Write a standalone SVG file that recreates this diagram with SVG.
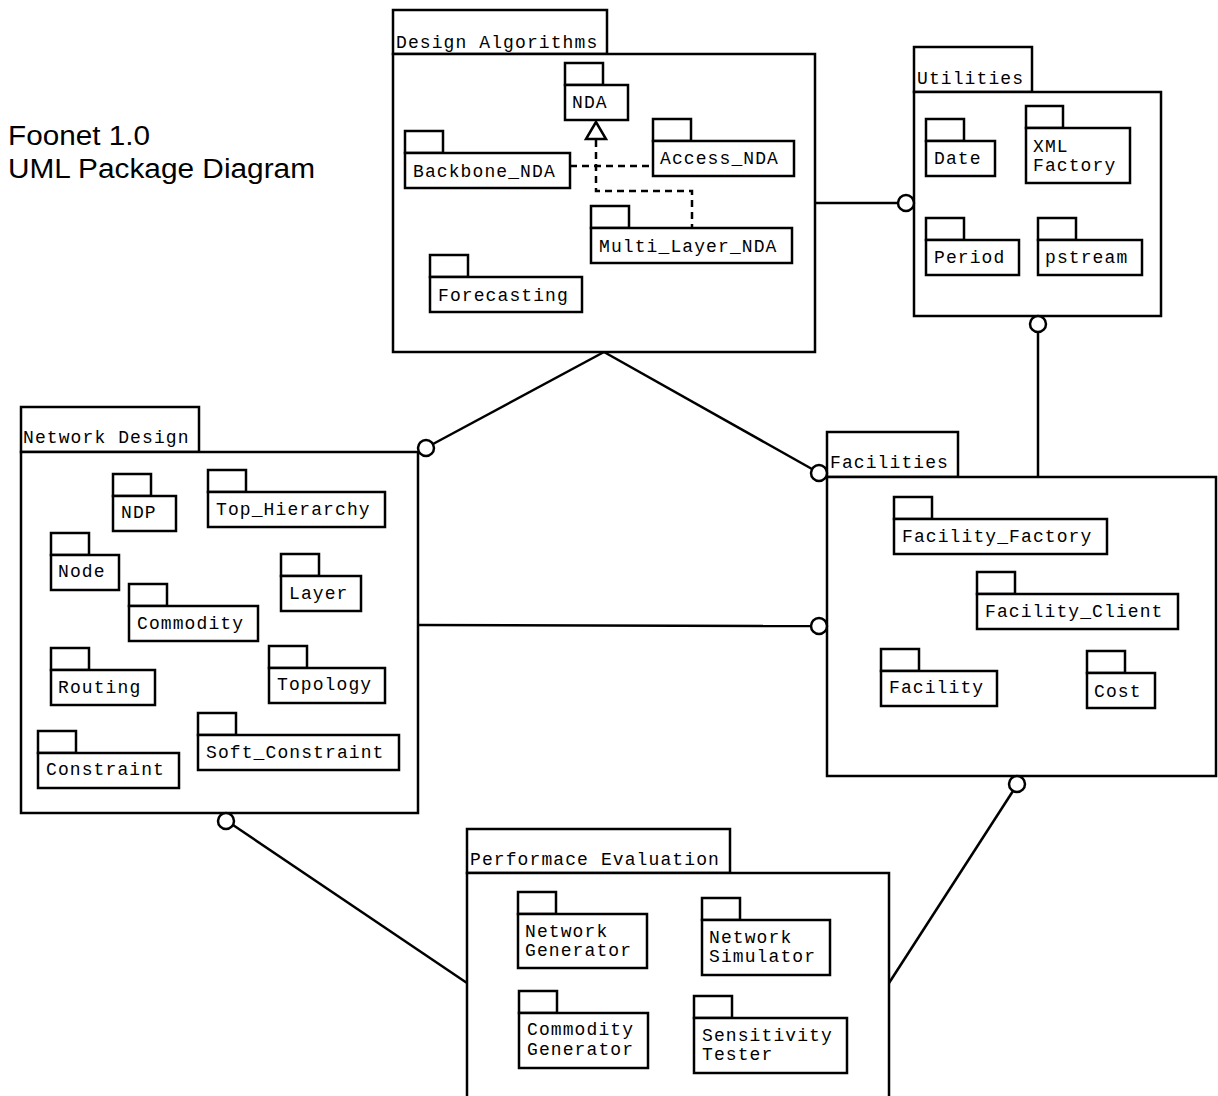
<svg xmlns="http://www.w3.org/2000/svg" width="1218" height="1096" viewBox="0 0 1218 1096">
  <style>
    .box { fill: #fff; stroke: #000; stroke-width: 2.5; }
    .lbl { font-family: "Liberation Mono", "Courier New", monospace; font-size: 18px; letter-spacing: 1.1px; fill: #000; }
    .title { font-family: "Liberation Sans", Arial, sans-serif; font-size: 27px; fill: #000; }
    .link { fill: none; stroke: #000; stroke-width: 2.5; }
    .dep { fill: none; stroke: #000; stroke-width: 2.5; stroke-dasharray: 7 5; }
    .sock { fill: #fff; stroke: #000; stroke-width: 2.5; }
  </style>

  <rect width="1218" height="1096" fill="#fff"/>

  <!-- heading -->
  <g id="title">
    <text class="title" x="8" y="145" textLength="142" lengthAdjust="spacingAndGlyphs">Foonet 1.0</text>
    <text class="title" x="8" y="178" textLength="307" lengthAdjust="spacingAndGlyphs">UML Package Diagram</text>
  </g>

  <!-- package connectors -->
  <g id="connectors">
    <line class="link" x1="604" y1="352" x2="433" y2="444"/>
    <line class="link" x1="604" y1="352" x2="812" y2="469"/>
    <line class="link" x1="815" y1="203" x2="898" y2="203"/>
    <line class="link" x1="1038" y1="332" x2="1038" y2="477"/>
    <line class="link" x1="418" y1="625" x2="811" y2="626"/>
    <line class="link" x1="233" y1="825" x2="467" y2="983"/>
    <line class="link" x1="1013" y1="791" x2="889" y2="983"/>
  </g>

  <!-- Design Algorithms -->
  <g id="design-algorithms">
    <rect class="box" x="393" y="10" width="214" height="44"/>
    <rect class="box" x="393" y="54" width="422" height="298"/>
    <text class="lbl" x="396" y="48">Design Algorithms</text>
    <g id="nda">
      <rect class="box" x="565" y="63" width="38" height="22"/>
      <rect class="box" x="565" y="85" width="63" height="35"/>
      <text class="lbl" x="572" y="108">NDA</text>
    </g>
    <g id="backbone-nda">
      <rect class="box" x="405" y="131" width="38" height="22"/>
      <rect class="box" x="405" y="153" width="165" height="35"/>
      <text class="lbl" x="413" y="177">Backbone_NDA</text>
    </g>
    <g id="access-nda">
      <rect class="box" x="653" y="119" width="38" height="22"/>
      <rect class="box" x="653" y="141" width="141" height="35"/>
      <text class="lbl" x="660" y="164">Access_NDA</text>
    </g>
    <g id="multi-layer-nda">
      <rect class="box" x="591" y="206" width="38" height="22"/>
      <rect class="box" x="591" y="228" width="201" height="35"/>
      <text class="lbl" x="599" y="252">Multi_Layer_NDA</text>
    </g>
    <g id="forecasting">
      <rect class="box" x="430" y="255" width="38" height="22"/>
      <rect class="box" x="430" y="277" width="152" height="35"/>
      <text class="lbl" x="438" y="301">Forecasting</text>
    </g>
    <!-- generalisation of the NDA variants -->
    <g id="nda-generalisation">
      <path class="dep" d="M570 166 H653"/>
      <path class="dep" d="M596 140 V191 H692 V228"/>
      <polygon points="596,122 586,139 606,139" fill="#fff" stroke="#000" stroke-width="2.5"/>
    </g>
  </g>

  <!-- Utilities -->
  <g id="utilities">
    <rect class="box" x="914" y="47" width="118" height="45"/>
    <rect class="box" x="914" y="92" width="247" height="224"/>
    <text class="lbl" x="917" y="84">Utilities</text>
    <g id="date">
      <rect class="box" x="926" y="119" width="38" height="22"/>
      <rect class="box" x="926" y="141" width="69" height="35"/>
      <text class="lbl" x="934" y="164">Date</text>
    </g>
    <g id="xml-factory">
      <rect class="box" x="1026" y="106" width="37" height="22"/>
      <rect class="box" x="1026" y="128" width="104" height="55"/>
      <text class="lbl" x="1033" y="152">XML</text>
      <text class="lbl" x="1033" y="171">Factory</text>
    </g>
    <g id="period">
      <rect class="box" x="926" y="218" width="38" height="22"/>
      <rect class="box" x="926" y="240" width="93" height="35"/>
      <text class="lbl" x="934" y="263">Period</text>
    </g>
    <g id="pstream">
      <rect class="box" x="1038" y="218" width="38" height="22"/>
      <rect class="box" x="1038" y="240" width="104" height="35"/>
      <text class="lbl" x="1045" y="263">pstream</text>
    </g>
  </g>

  <!-- Network Design -->
  <g id="network-design">
    <rect class="box" x="21" y="407" width="178" height="45"/>
    <rect class="box" x="21" y="452" width="397" height="361"/>
    <text class="lbl" x="23" y="443">Network Design</text>
    <g id="ndp">
      <rect class="box" x="113" y="474" width="38" height="22"/>
      <rect class="box" x="113" y="496" width="63" height="35"/>
      <text class="lbl" x="121" y="518">NDP</text>
    </g>
    <g id="top-hierarchy">
      <rect class="box" x="208" y="470" width="38" height="22"/>
      <rect class="box" x="208" y="492" width="177" height="35"/>
      <text class="lbl" x="216" y="515">Top_Hierarchy</text>
    </g>
    <g id="node">
      <rect class="box" x="51" y="533" width="38" height="22"/>
      <rect class="box" x="51" y="555" width="68" height="35"/>
      <text class="lbl" x="58" y="577">Node</text>
    </g>
    <g id="layer">
      <rect class="box" x="281" y="554" width="38" height="22"/>
      <rect class="box" x="281" y="576" width="80" height="35"/>
      <text class="lbl" x="289" y="599">Layer</text>
    </g>
    <g id="commodity">
      <rect class="box" x="129" y="584" width="38" height="22"/>
      <rect class="box" x="129" y="606" width="129" height="35"/>
      <text class="lbl" x="137" y="629">Commodity</text>
    </g>
    <g id="routing">
      <rect class="box" x="51" y="648" width="38" height="22"/>
      <rect class="box" x="51" y="670" width="104" height="35"/>
      <text class="lbl" x="58" y="693">Routing</text>
    </g>
    <g id="topology">
      <rect class="box" x="269" y="646" width="38" height="22"/>
      <rect class="box" x="269" y="668" width="116" height="35"/>
      <text class="lbl" x="277" y="690">Topology</text>
    </g>
    <g id="constraint">
      <rect class="box" x="38" y="731" width="38" height="22"/>
      <rect class="box" x="38" y="753" width="141" height="35"/>
      <text class="lbl" x="46" y="775">Constraint</text>
    </g>
    <g id="soft-constraint">
      <rect class="box" x="198" y="713" width="38" height="22"/>
      <rect class="box" x="198" y="735" width="201" height="35"/>
      <text class="lbl" x="206" y="758">Soft_Constraint</text>
    </g>
  </g>

  <!-- Facilities -->
  <g id="facilities">
    <rect class="box" x="827" y="432" width="131" height="45"/>
    <rect class="box" x="827" y="477" width="389" height="299"/>
    <text class="lbl" x="830" y="468">Facilities</text>
    <g id="facility-factory">
      <rect class="box" x="894" y="497" width="38" height="22"/>
      <rect class="box" x="894" y="519" width="213" height="35"/>
      <text class="lbl" x="902" y="542">Facility_Factory</text>
    </g>
    <g id="facility-client">
      <rect class="box" x="977" y="572" width="38" height="22"/>
      <rect class="box" x="977" y="594" width="201" height="35"/>
      <text class="lbl" x="985" y="617">Facility_Client</text>
    </g>
    <g id="facility">
      <rect class="box" x="881" y="649" width="38" height="22"/>
      <rect class="box" x="881" y="671" width="116" height="35"/>
      <text class="lbl" x="889" y="693">Facility</text>
    </g>
    <g id="cost">
      <rect class="box" x="1087" y="651" width="38" height="22"/>
      <rect class="box" x="1087" y="673" width="68" height="35"/>
      <text class="lbl" x="1094" y="697">Cost</text>
    </g>
  </g>

  <!-- Performace Evaluation -->
  <g id="performance-evaluation">
    <rect class="box" x="467" y="829" width="263" height="44"/>
    <rect class="box" x="467" y="873" width="422" height="240"/>
    <text class="lbl" x="470" y="865">Performace Evaluation</text>
    <g id="network-generator">
      <rect class="box" x="518" y="892" width="38" height="22"/>
      <rect class="box" x="518" y="914" width="129" height="54"/>
      <text class="lbl" x="525" y="937">Network</text>
      <text class="lbl" x="525" y="956">Generator</text>
    </g>
    <g id="network-simulator">
      <rect class="box" x="702" y="898" width="38" height="22"/>
      <rect class="box" x="702" y="920" width="128" height="55"/>
      <text class="lbl" x="709" y="943">Network</text>
      <text class="lbl" x="709" y="962">Simulator</text>
    </g>
    <g id="commodity-generator">
      <rect class="box" x="519" y="991" width="38" height="22"/>
      <rect class="box" x="519" y="1013" width="129" height="55"/>
      <text class="lbl" x="527" y="1035">Commodity</text>
      <text class="lbl" x="527" y="1055">Generator</text>
    </g>
    <g id="sensitivity-tester">
      <rect class="box" x="694" y="996" width="38" height="22"/>
      <rect class="box" x="694" y="1018" width="153" height="55"/>
      <text class="lbl" x="702" y="1041">Sensitivity</text>
      <text class="lbl" x="702" y="1060">Tester</text>
    </g>
  </g>

  <!-- interface sockets on the connectors -->
  <g id="sockets">
    <circle class="sock" cx="906" cy="203" r="8"/>
    <circle class="sock" cx="1038" cy="324" r="8"/>
    <circle class="sock" cx="426" cy="448" r="8"/>
    <circle class="sock" cx="819" cy="473" r="8"/>
    <circle class="sock" cx="819" cy="626" r="8"/>
    <circle class="sock" cx="226" cy="821" r="8"/>
    <circle class="sock" cx="1017" cy="784" r="8"/>
  </g>
</svg>
